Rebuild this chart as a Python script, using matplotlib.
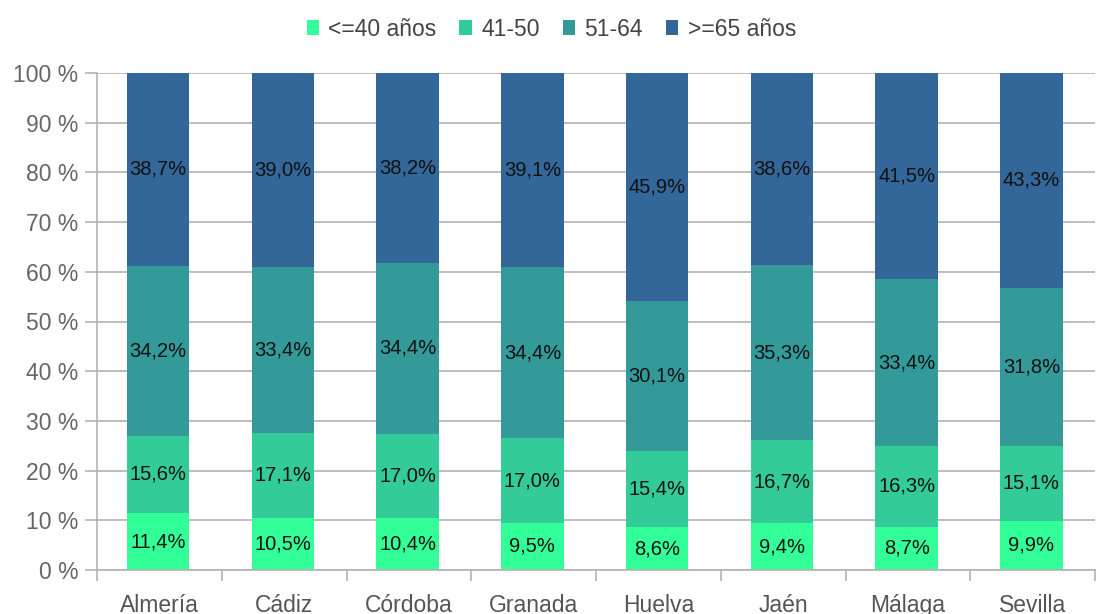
import matplotlib
matplotlib.use("Agg")
import matplotlib.pyplot as plt
import numpy as np

provinces = ["Almería", "Cádiz", "Córdoba", "Granada", "Huelva", "Jaén", "Málaga", "Sevilla"]
series_names = ["<=40 años", "41-50", "51-64", ">=65 años"]
s_le40 = [11.4, 10.5, 10.4, 9.5, 8.6, 9.4, 8.7, 9.9]
s_41_50 = [15.6, 17.1, 17.0, 17.0, 15.4, 16.7, 16.3, 15.1]
s_51_64 = [34.2, 33.4, 34.4, 34.4, 30.1, 35.3, 33.4, 31.8]
s_ge65 = [38.7, 39.0, 38.2, 39.1, 45.9, 38.6, 41.5, 43.3]
colors = ["#33ff99", "#33cc99", "#339999", "#336699"]

plt.rcParams['font.family'] = ['Liberation Sans', 'DejaVu Sans']

fig = plt.figure(figsize=(10.96, 6.14), dpi=100)
ax = fig.add_axes([97 / 1096, 44 / 614, 998 / 1096, 497 / 614])

data = np.array([s_le40, s_41_50, s_51_64, s_ge65])
totals = data.sum(axis=0)
norm = data / totals * 100
x = np.arange(len(provinces))
bottom = np.zeros(len(provinces))
for i, name in enumerate(series_names):
    bars = ax.bar(x - 0.01, norm[i], 0.5, bottom=bottom, color=colors[i], label=name, zorder=2)
    for j, b in enumerate(bars):
        ax.text(x[j] - 0.01, bottom[j] + norm[i][j] / 2, f"{data[i][j]:.1f}%".replace(".", ","),
                ha="center", va="center", fontsize=14.5, color="#111111", zorder=3)
    bottom += norm[i]

ax.set_xlim(-0.5, len(provinces) - 0.5)
ax.set_ylim(0, 100)
ax.set_yticks(np.arange(0, 101, 10))
ax.set_yticklabels([f"{v} %" for v in range(0, 101, 10)])
ax.set_xticks(x)
ax.set_xticklabels(provinces)
ax.set_xticks(np.arange(-0.5, len(provinces)), minor=True)
ax.tick_params(axis="x", which="major", length=0, labelsize=16.5, labelcolor="#555555", pad=17)
ax.tick_params(axis="x", which="minor", length=8, color="#b3b3b3", width=1.2)
ax.tick_params(axis="y", length=8.5, color="#b3b3b3", width=1.2, labelsize=16.5, labelcolor="#666666", pad=5)
ax.yaxis.grid(True, color="#b3b3b3", linewidth=1.2, zorder=0)
ax.set_axisbelow(True)
for sp in ["top", "right"]:
    ax.spines[sp].set_visible(False)
for sp in ["left", "bottom"]:
    ax.spines[sp].set_color("#b3b3b3")
    ax.spines[sp].set_linewidth(1.2)

fig.legend(loc="upper center", bbox_to_anchor=(0.503, 1.005), ncol=4, frameon=False,
           fontsize=16.5, handlelength=0.55, handleheight=0.6, handletextpad=0.4,
           columnspacing=1.0, labelcolor="#444444")

fig.savefig("out.png", dpi=100)
